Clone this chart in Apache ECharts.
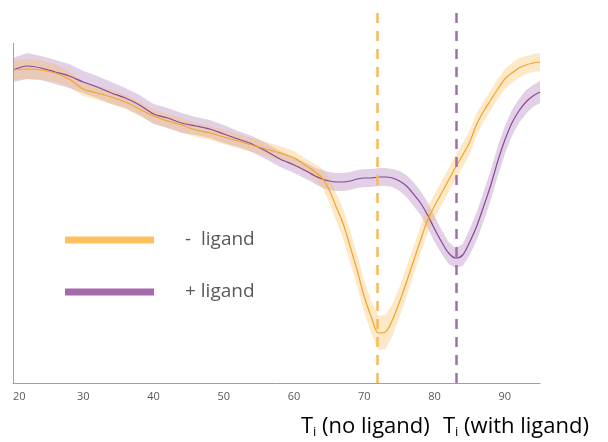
<!DOCTYPE html>
<html>
<head>
<meta charset="utf-8">
<script src="https://cdn.jsdelivr.net/npm/echarts@6/dist/echarts.min.js"></script>
<style>html,body{margin:0;padding:0;background:#fff}#c{width:608px;height:442px}</style>
</head>
<body>
<div id="c"></div>
<script>
// Temperature (°C)
const temps = [20,22,24,26,28,30,32,34,36,38,40,42,44,46,48,50,52,54,56,58,60,62,
  63,64,65,66,67,68,69,70,71,72,73,74,75,76,77,78,79,80,81,82,83,84,85,86,87,88,89,90,91,92,93,94,95];
// Signal (arbitrary units), no ligand
const noLigand = [313,314,313,310,304,294,290,286,281,274,267,262,258,253,250,246,242,238,234,230,225,216,
  211,205,193,176,159,136,112,86,66,50,51,63,81,101,122,143,163,177,190,203,216,228,241,259,272,283,294,304,310,315,318,320,321];
const noLigandErr = [10,10,10,9,8,7,7,7,7,7,7,7,7,7,7,7,7,7,7,7,7,7,
  8,9,12,14,15,16,16,16,16,17,17,16,15,15,14,14,13,12,12,12,12,12,12,11,10,10,10,10,10,10,9,9,9];
// Signal (arbitrary units), with ligand
const withLigand = [313,317,315,311,307,301,296,290,285,278,269,265,260,257,254,249,244,239,232,224,218,211,
  207,204,202,201,201,202,204,205,205,206,206,205,202,197,189,180,168,154,141,130,125,128,141,157,177,198,222,243,260,272,281,287,291];
const withLigandErr = [12,13,12,12,12,11,11,11,10,10,10,10,10,9,9,9,8,8,8,8,8,8,
  8,9,9,9,9,9,9,9,9,9,9,9,10,11,12,12,13,13,12,11,10,11,13,14,15,15,15,14,13,12,12,11,11];
// Transition temperatures
const tiTemps = [71.8, 83.1];
const tiLabels = ['(no ligand)', '(with ligand)'];
const seriesNames = ['-  ligand', '+ ligand'];
const xTicks = [20,30,40,50,60,70,80,90];

const xMin = 20, xMax = 95, yMax = 371, yAxisTop = 340;

function pairs(vals){ return temps.map((t,i)=>[t, vals[i]]); }

const colors = {
  o: {line:'#F3A32A', band:'rgba(249,186,80,0.32)', legend:'#FDC05F', dash:'#F8BB55'},
  p: {line:'#88479A', band:'rgba(160,104,172,0.30)', legend:'#A46AAC', dash:'#A56DAD'}
};

function bandSeries(key, vals, err, z){
  return {
    type:'custom', silent:true, z:z, clip:true,
    data: temps.map((t,i)=>[t, vals[i]-err[i], vals[i]+err[i]]),
    encode:{x:0, y:[1,2]},
    renderItem:function(params, api){
      if (params.dataIndex !== 0) return;
      const up = [], lo = [];
      for (let i=0;i<temps.length;i++){
        up.push(api.coord([temps[i], vals[i]+err[i]]));
        lo.push(api.coord([temps[i], vals[i]-err[i]]));
      }
      return {type:'polygon', shape:{points: up.concat(lo.reverse())},
              style:{fill:colors[key].band}};
    }
  };
}

const chart = echarts.init(document.getElementById('c'));
chart.setOption({
  animation:false,
  grid:{left:13, right:68, top:12, bottom:59},
  xAxis:{type:'value', min:xMin, max:xMax, interval:10,
    axisLine:{show:true, lineStyle:{color:'#A0A0A0', width:1}},
    axisTick:{show:false}, splitLine:{show:false},
    axisLabel:{color:'#595959', fontSize:11, fontFamily:'Open Sans', margin:8,
      showMaxLabel:false, alignMinLabel:'left',
      formatter:v=> xTicks.indexOf(v)>=0 ? String(v) : ''}},
  yAxis:{type:'value', min:0, max:yMax, axisLine:{show:false}, axisTick:{show:false},
    axisLabel:{show:false}, splitLine:{show:false}},
  legend:{orient:'vertical', left:65, top:229, padding:0, icon:'rect', itemWidth:89, itemHeight:7, itemGap:30,
    textStyle:{color:'#595959', fontSize:19, fontFamily:'Open Sans', padding:[0,0,0,26], lineHeight:22},
    data:[{name:seriesNames[0], itemStyle:{color:colors.o.legend}},
          {name:seriesNames[1], itemStyle:{color:colors.p.legend}}],
    selectedMode:false},
  series:[
    bandSeries('p', withLigand, withLigandErr, 1),
    bandSeries('o', noLigand, noLigandErr, 2),
    {name:seriesNames[1], type:'line', data:pairs(withLigand), symbol:'none', smooth:0.3,
     lineStyle:{color:colors.p.line, width:1.2}, itemStyle:{color:colors.p.line}, z:3,
     markLine:{silent:true, symbol:'none', label:{show:false},
       lineStyle:{color:'#A0A0A0', type:'solid', width:1},
       data:[[{coord:[xMin,0]},{coord:[xMin,yAxisTop]}]]}},
    {name:seriesNames[0], type:'line', data:pairs(noLigand), symbol:'none', smooth:0.3,
     lineStyle:{color:colors.o.line, width:1.2}, itemStyle:{color:colors.o.line}, z:4},
    {type:'line', data:[], silent:true, z:5,
     markLine:{silent:true, symbol:'none', label:{show:false},
       data:[
         [{coord:[tiTemps[0],0], lineStyle:{color:colors.o.dash, type:[10,8], width:2.5}},{coord:[tiTemps[0],yMax]}],
         [{coord:[tiTemps[1],0], lineStyle:{color:colors.p.dash, type:[10,8], width:2.5}},{coord:[tiTemps[1],yMax]}]
       ]}}
  ],
  graphic:[
    {type:'text', left:301, top:414, style:{
      text:'{t|T}{s|i}{t| '+tiLabels[0]+'}',
      rich:{t:{fontSize:22, fontFamily:'Open Sans', fill:'#000', lineHeight:26},
            s:{fontSize:13, fontFamily:'Open Sans', fill:'#000', lineHeight:26, padding:[12,0,0,0]}}}},
    {type:'text', left:443, top:414, style:{
      text:'{t|T}{s|i}{t| '+tiLabels[1]+'}',
      rich:{t:{fontSize:22, fontFamily:'Open Sans', fill:'#000', lineHeight:26},
            s:{fontSize:13, fontFamily:'Open Sans', fill:'#000', lineHeight:26, padding:[12,0,0,0]}}}}
  ]
});
</script>
</body>
</html>
